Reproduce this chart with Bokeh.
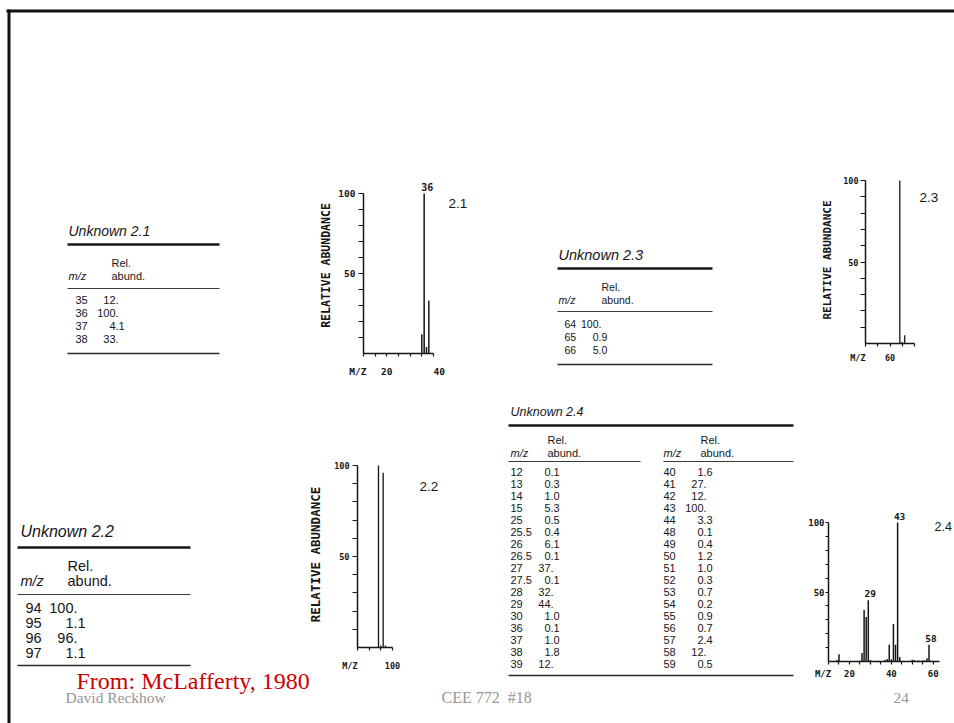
from bokeh.plotting import figure
from bokeh.models import Range1d, Label, FixedTicker, Column
from bokeh.core.properties import value
from bokeh.embed import file_html
from bokeh.resources import INLINE

W, H = 954, 723

# ---------------- data ----------------
u21_mz = ["35", "36", "37", "38"]
u21_ab = ["12.", "100.", "4.1", "33."]

u22_mz = ["94", "95", "96", "97"]
u22_ab = ["100.", "1.1", "96.", "1.1"]

u23_mz = ["64", "65", "66"]
u23_ab = ["100.", "0.9", "5.0"]

u24_mz_left = ["12", "13", "14", "15", "25", "25.5", "26", "26.5", "27",
               "27.5", "28", "29", "30", "36", "37", "38", "39"]
u24_ab_left = ["0.1", "0.3", "1.0", "5.3", "0.5", "0.4", "6.1", "0.1", "37.",
               "0.1", "32.", "44.", "1.0", "0.1", "1.0", "1.8", "12."]
u24_mz_right = ["40", "41", "42", "43", "44", "48", "49", "50", "51",
                "52", "53", "54", "55", "56", "57", "58", "59"]
u24_ab_right = ["1.6", "27.", "12.", "100.", "3.3", "0.1", "0.4", "1.2", "1.0",
                "0.3", "0.7", "0.2", "0.9", "0.7", "2.4", "12.", "0.5"]

NB = "\u00a0"
# spectrum axes: tick values and the tick labels that are printed
s21_xticks = [10, 15, 20, 25, 30, 35, 40]
s21_xlabels = {10: "M/Z" + NB * 2, 20: "20", 40: NB * 2 + "40"}
s22_xticks = [85, 90, 95, 100]
s22_xlabels = {85: "M/Z" + NB * 3, 100: "100"}
s23_xticks = [50, 55, 60, 65, 70]
s23_xlabels = {50: "M/Z" + NB * 3, 60: "60"}
s24_xticks = [10, 15, 20, 25, 30, 35, 40, 45, 50, 55, 60]
s24_xlabels = {10: "M/Z" + NB * 2, 20: "20", 40: "40", 60: "60"}
y_ticks = [10, 20, 30, 40, 50, 60, 70, 80, 90, 100]
y_labels = {50: "50", 100: "100"}
s21_peak_labels = ["36"]
s24_peak_labels = ["29", "43", "58"]

SANS = "Liberation Sans"
SERIF = "Liberation Serif"
MONO = "DejaVu Sans Mono"
INK = "#161616"
GRAY = "#959595"


def num(strings):
    return [float(s) for s in strings]


# ---------------- slide background (tables, footer) ----------------
bg = figure(width=W, height=H, x_range=Range1d(0, W), y_range=Range1d(H, 0),
            toolbar_location=None, output_backend="svg", min_border=0,
            x_axis_type=None, y_axis_type=None, outline_line_color=None,
            frame_align=False)

# slide frame
bg.segment(x0=[6, 8.5], y0=[10.5, 9], x1=[W, 8.5], y1=[10.5, H],
           line_width=3, line_color="#111111")


def put(p, xs, ys, texts, size, align="left", style="normal", font=SANS,
        color=INK, baseline="middle"):
    p.text(x=xs, y=ys, text=texts, text_font=value(font),
           text_font_size=value(f"{size}px"), text_align=align,
           text_baseline=baseline, text_font_style=style, text_color=color)


def table(p, title, cfg, blocks):
    put(p, [cfg["tx"]], [cfg["ty"]], [title], cfg["fs_t"], style="italic")
    p.segment(x0=[cfg["x0"]], y0=[cfg["thick"]], x1=[cfg["x1"]], y1=[cfg["thick"]],
              line_width=2.6, line_color=INK)
    p.segment(x0=[cfg["x0"]], y0=[cfg["bottom"]], x1=[cfg["x1"]], y1=[cfg["bottom"]],
              line_width=1.4, line_color="#2a2a2a")
    fs = cfg["fs_b"]
    for blk in blocks:
        put(p, [blk["rel_x"]], [cfg["rel_y"]], ["Rel."], fs)
        put(p, [blk["rel_x"]], [cfg["head_y"]], ["abund."], fs)
        put(p, [blk["mzh_x"]], [cfg["head_y"]], ["m/z"], fs, style="italic")
        p.segment(x0=[blk["l0"]], y0=[cfg["thin"]], x1=[blk["l1"]], y1=[cfg["thin"]],
                  line_width=1.1, line_color="#3a3a3a")
        mz, ab = blk["mz"], blk["ab"]
        ys = [cfg["row0"] + i * cfg["dy"] for i in range(len(mz))]
        put(p, [blk["mz_x"]] * len(mz), ys, mz, fs)
        ints = [s.split(".")[0] for s in ab]
        fracs = ["." + s.split(".")[1] for s in ab]
        put(p, [blk["dec"]] * len(ab), ys, ints, fs, align="right")
        put(p, [blk["dec"]] * len(ab), ys, fracs, fs, align="left")


table(bg, "Unknown 2.1",
      dict(tx=68, ty=230, fs_t=14, fs_b=11, x0=67, x1=219, thick=244, rel_y=262,
           head_y=275, thin=288, bottom=353, row0=299, dy=13),
      [dict(mz=u21_mz, ab=u21_ab, rel_x=111, mzh_x=68, mz_x=75, dec=115, l0=67, l1=219)])

table(bg, "Unknown 2.3",
      dict(tx=558, ty=254, fs_t=14.5, fs_b=10.5, x0=557, x1=712, thick=268, rel_y=286,
           head_y=299, thin=311, bottom=364, row0=323, dy=13),
      [dict(mz=u23_mz, ab=u23_ab, rel_x=601, mzh_x=558, mz_x=564, dec=598, l0=557, l1=712)])

table(bg, "Unknown 2.2",
      dict(tx=20, ty=531, fs_t=16, fs_b=14.5, x0=17, x1=190, thick=547, rel_y=565,
           head_y=580, thin=594, bottom=665, row0=607, dy=15),
      [dict(mz=u22_mz, ab=u22_ab, rel_x=67, mzh_x=20, mz_x=25, dec=73, l0=17, l1=190)])

table(bg, "Unknown 2.4",
      dict(tx=510, ty=411, fs_t=12.5, fs_b=11, x0=508, x1=793, thick=425, rel_y=439,
           head_y=452, thin=461, bottom=675, row0=471, dy=12),
      [dict(mz=u24_mz_left, ab=u24_ab_left, rel_x=547, mzh_x=510, mz_x=510, dec=550,
            l0=508, l1=640),
       dict(mz=u24_mz_right, ab=u24_ab_right, rel_x=700, mzh_x=663, mz_x=663, dec=703,
            l0=663, l1=793)])

# footer
put(bg, [76], [680], ["From: McLafferty, 1980"], 24, font=SERIF, color="#cc0000")
put(bg, [65], [697], ["David Reckhow"], 15.5, font=SERIF, color=GRAY)
put(bg, [441], [697], ["CEE 772" + NB + " #18"], 16, font=SERIF, color=GRAY)
put(bg, [893], [697], ["24"], 15.5, font=SERIF, color=GRAY)


# ---------------- mass spectra ----------------
def spectrum(mz, ab, x0, x1, xticks, xlabels, ax_left, ax_top, ax_w, ax_h,
             extra_r, extra_t, pad_l, pad_b, tick_fs, xlab_standoff,
             ylab=None, ylab_fs=11, ylab_standoff=2, ytick_out=5,
             ylab_tick_standoff=3, lw=1.4):
    # the frame is the axis box plus room on the right/top for the annotations;
    # the axes themselves are bounded to the data box
    x_end = x1 + extra_r * (x1 - x0) / ax_w
    y_end = 100 + extra_t * 100 / ax_h
    p = figure(frame_width=ax_w + extra_r, frame_height=ax_h + extra_t,
               x_range=Range1d(x0, x_end), y_range=Range1d(0, y_end),
               min_border_left=pad_l, min_border_top=1, min_border_right=1,
               min_border_bottom=pad_b, toolbar_location=None,
               output_backend="svg", outline_line_color=None,
               background_fill_alpha=0, border_fill_alpha=0, frame_align=False,
               styles={"position": "absolute", "left": f"{ax_left - pad_l}px",
                       "top": f"{ax_top - extra_t - 1}px"})
    p.grid.visible = False
    p.segment(x0=mz, y0=0, x1=mz, y1=ab, line_width=lw, line_color=INK)

    xa = p.xaxis[0]
    xa.ticker = FixedTicker(ticks=xticks)
    xa.major_label_overrides = {tk: xlabels.get(tk, "") for tk in xticks}
    xa.bounds = (x0, x1)
    xa.major_tick_out = 3
    xa.major_tick_in = 0
    xa.minor_tick_line_color = None
    xa.axis_line_width = 1.5
    xa.major_tick_line_width = 1.2
    xa.axis_line_color = INK
    xa.major_tick_line_color = INK
    xa.major_label_text_font = MONO
    xa.major_label_text_font_style = "bold"
    xa.major_label_text_font_size = f"{tick_fs}px"
    xa.major_label_text_color = INK
    xa.major_label_standoff = xlab_standoff

    ya = p.yaxis[0]
    ya.ticker = FixedTicker(ticks=y_ticks)
    ya.major_label_overrides = {tk: y_labels.get(tk, "") for tk in y_ticks}
    ya.bounds = (0, 100)
    ya.major_tick_out = ytick_out
    ya.major_tick_in = 0
    ya.minor_tick_line_color = None
    ya.axis_line_width = 1.5
    ya.major_tick_line_width = 1.2
    ya.axis_line_color = INK
    ya.major_tick_line_color = INK
    ya.major_label_text_font = MONO
    ya.major_label_text_font_style = "bold"
    ya.major_label_text_font_size = f"{tick_fs}px"
    ya.major_label_text_color = INK
    ya.major_label_standoff = ylab_tick_standoff
    if ylab:
        ya.axis_label = ylab
        ya.axis_label_text_font = MONO
        ya.axis_label_text_font_style = "bold"
        ya.axis_label_text_font_size = f"{ylab_fs}px"
        ya.axis_label_text_color = INK
        ya.axis_label_standoff = ylab_standoff
    return p


def tag(p, x, y, text, dx, dy, fs=13.5):
    p.add_layout(Label(x=x, y=y, x_offset=dx, y_offset=dy, text=text,
                       text_align="left", text_baseline="middle", text_font=SANS,
                       text_font_size=f"{fs}px", text_color=INK))


def peak_tags(p, mz_strings, mz_all, ab_all, fs, dx=2):
    lookup = dict(zip(mz_all, ab_all))
    for s in mz_strings:
        p.add_layout(Label(x=float(s), y=lookup[s], x_offset=dx, y_offset=3,
                           text=s, text_align="center", text_baseline="bottom",
                           text_font=MONO, text_font_style="bold",
                           text_font_size=f"{fs}px", text_color=INK))


# Unknown 2.1
s21 = spectrum(num(u21_mz), num(u21_ab), 10, 40, s21_xticks, s21_xlabels,
               ax_left=363, ax_top=193, ax_w=70, ax_h=160, extra_r=40, extra_t=16,
               pad_l=52, pad_b=30, tick_fs=9.5, xlab_standoff=9,
               ylab="RELATIVE ABUNDANCE", ylab_fs=11.5, ylab_standoff=2, lw=1.5)
peak_tags(s21, s21_peak_labels, u21_mz, num(u21_ab), 10, dx=3)
tag(s21, 40, 100, "2.1", 15, -10)

# Unknown 2.3
s23 = spectrum(num(u23_mz), num(u23_ab), 50, 70, s23_xticks, s23_xlabels,
               ax_left=865, ax_top=180, ax_w=49, ax_h=163, extra_r=26, extra_t=4,
               pad_l=55, pad_b=28, tick_fs=8.5, xlab_standoff=6,
               ylab="RELATIVE ABUNDANCE", ylab_fs=11, ylab_standoff=6,
               ylab_tick_standoff=2, lw=1.3)
tag(s23, 70, 100, "2.3", 5, -17)

# Unknown 2.2
s22 = spectrum(num(u22_mz), num(u22_ab), 85, 100, s22_xticks, s22_xlabels,
               ax_left=357, ax_top=465, ax_w=35, ax_h=182, extra_r=50, extra_t=4,
               pad_l=55, pad_b=30, tick_fs=8.5, xlab_standoff=10,
               ylab="RELATIVE ABUNDANCE", ylab_fs=12.5, ylab_standoff=8, lw=1.3)
tag(s22, 100, 100, "2.2", 27, -21)

# Unknown 2.4
s24_mz = num(u24_mz_left + u24_mz_right)
s24_ab = num(u24_ab_left + u24_ab_right)
s24 = spectrum(s24_mz, s24_ab, 10, 63, s24_xticks, s24_xlabels,
               ax_left=828, ax_top=522, ax_w=111, ax_h=139, extra_r=14, extra_t=16,
               pad_l=30, pad_b=25, tick_fs=9, xlab_standoff=4, ytick_out=3,
               ylab_tick_standoff=1, lw=1.5)
peak_tags(s24, s24_peak_labels, u24_mz_left + u24_mz_right, s24_ab, 9.5)
tag(s24, 63, 100, "2.4", -5, -4, fs=12.5)

root = Column(children=[bg, s21, s23, s22, s24], spacing=0,
              styles={"position": "relative"})

with open("out.html", "w") as f:
    f.write(file_html(root, INLINE, title="Unknowns 2.1-2.4"))
